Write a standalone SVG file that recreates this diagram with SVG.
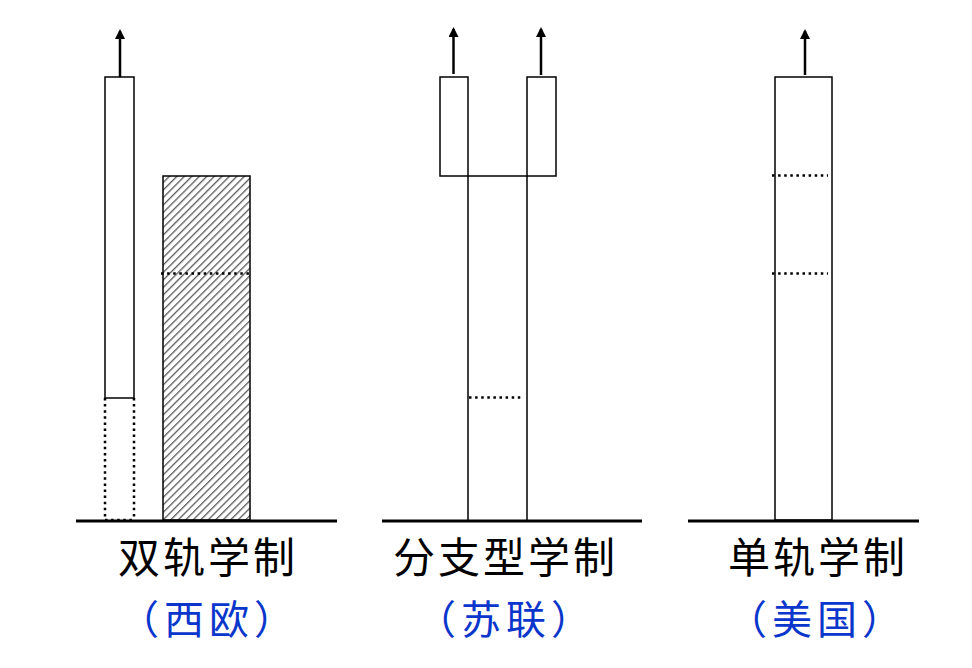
<svg xmlns="http://www.w3.org/2000/svg" width="972" height="668" viewBox="0 0 972 668">
<style>
.box{fill:none;stroke:#000;stroke-width:1.5}
.dot{fill:none;stroke:#000;stroke-width:2.5;stroke-dasharray:2.5 3.6}
.base{stroke:#000;stroke-width:3}
.arr{stroke:#000;stroke-width:2.5;fill:none;marker-end:url(#ah)}
.t1{font-family:"Noto Sans CJK SC","Noto Sans CJK TC",sans-serif;font-size:42px;fill:#000;letter-spacing:3px}
.t2{font-family:"Noto Sans CJK SC","Noto Sans CJK TC",sans-serif;font-size:40px;fill:#0a36cc;letter-spacing:5px}
</style>
<defs>
<marker id="ah" markerWidth="12" markerHeight="12" refX="8" refY="5" orient="auto" markerUnits="userSpaceOnUse">
<path d="M0,0 L10,5 L0,10 Z" fill="#000"/>
</marker>
<pattern id="hatch" width="5.3" height="5.3" patternUnits="userSpaceOnUse" patternTransform="rotate(45)">
<line x1="0" y1="0" x2="0" y2="5.3" stroke="#5a5a5a" stroke-width="2.6"/>
</pattern>
</defs>
<rect width="972" height="668" fill="#fff"/>

<g id="dual">
<rect class="box" x="105" y="77" width="29" height="321"/>
<path class="dot" d="M105,398 V520 M134,398 V520 M105,520 H134"/>
<rect x="163" y="176" width="87" height="344" fill="url(#hatch)" stroke="#000" stroke-width="1.5"/>
<line class="dot" x1="161" y1="273.5" x2="249" y2="273.5"/>
<line class="base" x1="76" y1="521" x2="337" y2="521"/>
<text class="t1" x="118" y="573">双轨学制</text>
<text class="t2" x="119" y="634">（西欧）</text>
</g>

<g id="branch">
<rect class="box" x="440" y="77" width="28" height="99"/>
<rect class="box" x="527" y="77" width="29" height="99"/>
<path class="box" d="M468,176 H527 M468,176 V520 M527,176 V520"/>
<line class="dot" x1="469" y1="397.5" x2="522" y2="397.5"/>
<line class="base" x1="382" y1="521" x2="642" y2="521"/>
<text class="t1" x="393" y="573">分支型学制</text>
<text class="t2" x="416" y="634">（苏联）</text>
</g>

<g id="single">
<rect class="box" x="775" y="77" width="57" height="443"/>
<line class="dot" x1="772" y1="175.5" x2="828" y2="175.5"/>
<line class="dot" x1="772" y1="273.5" x2="828" y2="273.5"/>
<line class="base" x1="688" y1="521" x2="919" y2="521"/>
<text class="t1" x="728" y="573">单轨学制</text>
<text class="t2" x="727" y="634">（美国）</text>
</g>

<g id="connectors">
<line class="arr" x1="120" y1="77" x2="120" y2="31"/>
<line class="arr" x1="453.5" y1="74" x2="453.5" y2="29"/>
<line class="arr" x1="541" y1="75" x2="541" y2="29"/>
<line class="arr" x1="805" y1="75" x2="805" y2="31"/>
</g>
</svg>
